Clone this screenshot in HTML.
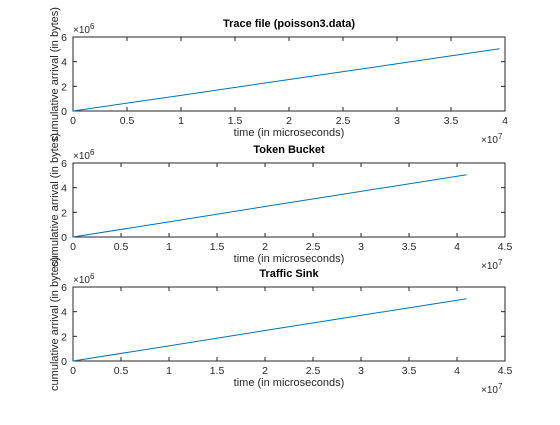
<!DOCTYPE html>
<html><head><meta charset="utf-8"><style>
body{margin:0;background:#fff;}
svg text{font-family:"Liberation Sans",Arial,sans-serif;}
</style></head><body>
<svg id="c" width="560" height="420" xmlns="http://www.w3.org/2000/svg"></svg>
<script>
const titles=["Trace file (poisson3.data)","Token Bucket","Traffic Sink"];
const xMaxes=[4e7,4.5e7,4.5e7];
const xTickLists=[[0,0.5,1,1.5,2,2.5,3,3.5,4],[0,0.5,1,1.5,2,2.5,3,3.5,4,4.5],[0,0.5,1,1.5,2,2.5,3,3.5,4,4.5]];
const yTicks=[0,2,4,6];
const seriesX=[[0,1e7,2e7,3e7,3.95e7],[0,1e7,2e7,3e7,4.1e7],[0,1e7,2e7,3e7,4.1e7]];
const seriesY=[[0,1.27e6,2.55e6,3.83e6,5.05e6],[0,1.23e6,2.47e6,3.7e6,5.05e6],[0,1.23e6,2.47e6,3.7e6,5.05e6]];
const tops=[37,163,287];
const L=73,R=505,H=74;
const svg=document.getElementById('c');
const NS="http://www.w3.org/2000/svg";
function mk(tag,attrs,parent){const e=document.createElementNS(NS,tag);for(const k in attrs)e.setAttribute(k,attrs[k]);(parent||svg).appendChild(e);return e;}
for(let p=0;p<3;p++){
  const g=mk('g',{});
  
  
  const T=tops[p],B=T+H;
  const sx=v=>L+v/xMaxes[p]*(R-L);
  const sy=v=>B-v/6e6*H;
  mk('rect',{x:L,y:T,width:R-L,height:H,fill:'#fff',stroke:'#262626','stroke-width':1},g);
  xTickLists[p].forEach(t=>{
    const x=sx(t*1e7);
    mk('line',{x1:x,y1:B,x2:x,y2:B-4,stroke:'#262626'},g);
    mk('line',{x1:x,y1:T,x2:x,y2:T+4,stroke:'#262626'},g);
    const tx=mk('text',{x:x,y:B+13,'font-size':10.5,'text-anchor':'middle',fill:'#262626'},g);
    tx.textContent=String(t);
    
    
  });
  yTicks.forEach(t=>{
    const y=sy(t*1e6);
    mk('line',{x1:L,y1:y,x2:L+4,y2:y,stroke:'#262626'},g);
    mk('line',{x1:R,y1:y,x2:R-4,y2:y,stroke:'#262626'},g);
    const tx=mk('text',{x:L-6,y:y+4,'font-size':10.5,'text-anchor':'end',fill:'#262626'},g);
    tx.textContent=String(t);
    
    
  });
  const pts=seriesX[p].map((x,i)=>sx(x)+','+sy(seriesY[p][i])).join(' ');
  const ln=mk('polyline',{points:pts,fill:'none',stroke:'#0072bd','stroke-width':1},g);
  
  
  const ti=mk('text',{x:(L+R)/2,y:T-10,'font-size':11,'font-weight':'bold','text-anchor':'middle',fill:'#000'},g);
  ti.textContent=titles[p];
  
  
  const xl=mk('text',{x:(L+R)/2,y:B+25,'font-size':11,'text-anchor':'middle',fill:'#262626'},g);
  xl.textContent='time (in microseconds)';
  
  
  const yl=mk('text',{x:0,y:0,'font-size':11,'text-anchor':'middle',fill:'#262626',transform:'translate(58,'+(T+H/2)+') rotate(-90)'},g);
  yl.textContent='cumulative arrival (in bytes)';
  
  
  const ye=mk('text',{x:L,y:T-4,'font-size':10,fill:'#262626'},g);
  ye.innerHTML='×10<tspan dy="-4" font-size="8">6</tspan>';
  
  
  const xe=mk('text',{x:R-24,y:B+32,'font-size':10,fill:'#262626'},g);
  xe.innerHTML='×10<tspan dy="-4" font-size="8">7</tspan>';
  
  
}
</script>
</body></html>
